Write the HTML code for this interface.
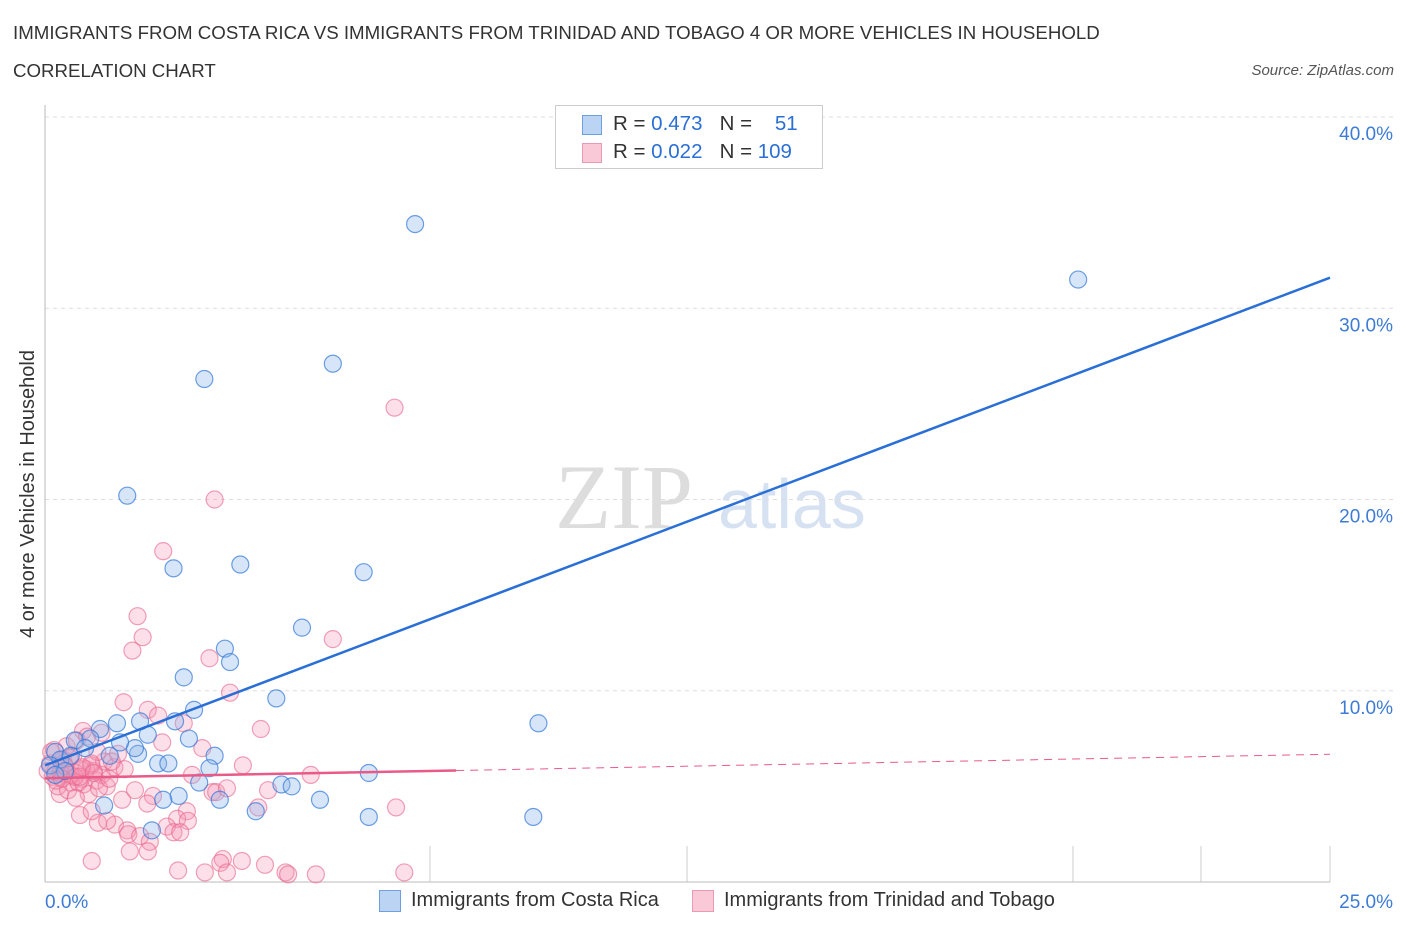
<!DOCTYPE html>
<html><head><meta charset="utf-8"><style>
body{margin:0;background:#fff;font-family:"Liberation Sans",sans-serif;}
#wrap{position:relative;width:1406px;height:930px;overflow:hidden;}
.t{position:absolute;white-space:nowrap;}
</style></head><body>
<div id="wrap">
<div class="t" style="left:13px;top:22px;font-size:18.7px;color:#333">IMMIGRANTS FROM COSTA RICA VS IMMIGRANTS FROM TRINIDAD AND TOBAGO 4 OR MORE VEHICLES IN HOUSEHOLD</div>
<div class="t" style="left:13px;top:60px;font-size:18.7px;color:#333">CORRELATION CHART</div>
<div class="t" style="right:12px;top:62px;font-size:15px;color:#555;font-style:italic">Source: ZipAtlas.com</div>
<svg id="svg" width="1406" height="930" style="position:absolute;left:0;top:0"></svg>
</div>
<script>
const xTicks=[0,25];
const yTicks=[10,20,30,40];
const blueX=[7.2,20.1,3.1,5.6,1.6,3.8,2.5,6.2,5.0,3.5,3.6,2.7,4.5,2.9,9.6,2.8,1.4,2.0,1.07,0.88,0.58,3.3,1.81,1.75,2.2,2.4,3.2,3.0,6.3,4.6,4.8,2.6,2.3,3.4,5.35,1.15,4.1,2.08,6.3,9.5,0.2,0.3,0.1,0.5,1.46,0.78,1.26,0.39,0.2,1.85,2.53];
const blueY=[34.4,31.5,26.3,27.1,20.2,16.6,16.4,16.2,13.3,12.2,11.5,10.7,9.6,9.0,8.3,7.5,8.3,7.7,8.0,7.5,7.4,6.6,6.7,7.0,6.2,6.2,5.95,5.2,5.7,5.1,5.0,4.5,4.3,4.3,4.3,4.0,3.7,2.7,3.4,3.4,6.8,6.4,6.1,6.6,7.3,7.0,6.6,5.8,5.6,8.4,8.4];
const pinkX=[6.8,3.3,2.3,1.8,1.9,1.7,5.6,3.2,3.6,1.53,2.0,2.2,2.7,4.2,0.74,2.28,3.06,3.85,5.17,2.86,3.26,3.33,4.34,3.54,4.15,6.83,1.75,2.1,1.5,1.99,0.68,1.03,1.36,1.6,1.21,0.91,0.29,2.76,2.57,2.78,2.37,1.62,1.85,2.04,2.5,2.63,3.46,3.83,1.65,2.0,0.91,3.41,4.28,4.68,2.59,3.11,3.54,4.73,5.27,6.99,
0.1,0.2,0.3,0.4,0.5,0.6,0.7,0.8,0.9,1.0,1.1,1.2,0.15,0.35,0.55,0.75,0.95,1.15,1.35,0.25,0.45,0.65,0.85,1.05,1.25,0.12,0.42,0.62,0.82,1.02,0.3,0.5,0.7,0.9,0.22,0.48,0.58,0.18,0.38,0.68,1.42,1.55,0.05,0.33,0.72,0.95,1.3,1.1,0.6];
const pinkY=[24.8,20.0,17.3,13.9,12.8,12.1,12.7,11.7,9.9,9.4,9.0,8.7,8.3,8.0,7.9,7.3,7.0,6.1,5.6,5.6,4.7,4.7,4.8,4.9,3.9,3.9,4.8,4.5,4.3,4.1,3.5,3.1,3.0,2.7,3.2,3.7,4.6,3.7,3.3,3.2,2.9,2.5,2.4,2.1,2.6,2.6,1.2,1.1,1.6,1.6,1.1,1.0,0.9,0.5,0.6,0.5,0.5,0.4,0.4,0.5,
6.2,5.8,5.5,6.0,5.2,5.7,5.4,5.9,6.1,5.3,5.6,5.0,5.5,6.4,6.6,5.1,5.8,6.3,6.0,5.0,4.8,5.2,4.6,4.9,5.4,6.8,7.1,7.4,7.6,6.8,5.7,5.6,5.9,6.2,5.3,6.5,5.5,6.9,6.1,5.5,6.7,5.9,5.8,5.4,6.0,5.7,6.3,7.8,4.4];
const blueLine=[6.1,31.6];
const pinkLine=[5.43,6.68];
const X0=45,X1=1330,Y0=882,Y40=117;
const sx=v=>X0+(X1-X0)*v/25;
const sy=v=>Y0-(Y0-Y40)*v/40;
const svg=document.getElementById('svg');
const NS='http://www.w3.org/2000/svg';
function mk(tag,attrs,parent){const e=document.createElementNS(NS,tag);for(const k in attrs)e.setAttribute(k,attrs[k]);(parent||svg).appendChild(e);return e;}
let wm=mk('text',{x:555,y:528,'font-size':92,'font-family':'Liberation Serif, serif',fill:'#ddd'});wm.textContent='ZIP';


let wm2=mk('text',{x:718,y:528,'font-size':70,'font-family':'Liberation Sans, sans-serif',fill:'#d6e2f2'});wm2.textContent='atlas';


yTicks.forEach(t=>{
 const l=mk('line',{x1:X0,x2:1395,y1:sy(t),y2:sy(t),stroke:'#ddd','stroke-dasharray':'4,4'});
 
 
 const tx=mk('text',{x:1393,y:sy(t)+23,'text-anchor':'end','font-size':19,fill:'#3d7bd6'});tx.textContent=t.toFixed(1)+'%';
 
 
});
mk('line',{x1:X0,x2:X0,y1:105,y2:Y0,stroke:'#bbb'});
mk('line',{x1:X0,x2:X1,y1:Y0,y2:Y0,stroke:'#bbb'});
[430,687,1073,1201,1330].forEach(x=>{const l=mk('line',{x1:x,x2:x,y1:846,y2:Y0,stroke:'#ccc'});
 
 });
xTicks.forEach(t=>{const tx=mk('text',{x:t==0?45:1393,y:908,'text-anchor':t==0?'start':'end','font-size':19,fill:'#3d7bd6'});tx.textContent=t.toFixed(1)+'%';
 
 });
const yt=mk('text',{transform:'translate(34,494) rotate(-90)','text-anchor':'middle','font-size':20,fill:'#333'});yt.textContent='4 or more Vehicles in Household';


pinkX.forEach((v,i)=>{const c=mk('circle',{cx:sx(v),cy:sy(pinkY[i]),r:8.5,fill:'rgba(244,150,180,0.3)',stroke:'rgba(232,100,140,0.6)','stroke-width':1.2});
 
 });
blueX.forEach((v,i)=>{const c=mk('circle',{cx:sx(v),cy:sy(blueY[i]),r:8.5,fill:'rgba(140,180,235,0.35)',stroke:'rgba(50,120,215,0.7)','stroke-width':1.2});
 
 });
const bl=mk('line',{x1:sx(0),y1:sy(blueLine[0]),x2:sx(25),y2:sy(blueLine[1]),stroke:'#2a6fd6','stroke-width':2.5});


const pm=v=>pinkLine[0]+(pinkLine[1]-pinkLine[0])*v/25;
const pl=mk('line',{x1:sx(0),y1:sy(pm(0)),x2:sx(8),y2:sy(pm(8)),stroke:'#e85a88','stroke-width':2.5});


const pd=mk('line',{x1:sx(8),y1:sy(pm(8)),x2:sx(25),y2:sy(pm(25)),stroke:'#e85a88','stroke-width':1,'stroke-dasharray':'8,6'});


</script>
<div class="t" style="left:555px;top:105px;width:266px;height:62px;border:1px solid #ccc;background:#fff">
 <div style="position:absolute;left:26px;top:9px;width:18px;height:18px;background:#bcd4f4;border:1px solid #6f9fe0"></div>
 <div style="position:absolute;left:26px;top:37px;width:18px;height:18px;background:#f9c9d8;border:1px solid #eb9ab4"></div>
 <div class="t" style="left:57px;top:6px;font-size:20.5px;color:#333">R = <span style="color:#2a6fd6">0.473</span>&nbsp;&nbsp;&nbsp;N = &nbsp;&nbsp;&nbsp;<span style="color:#2a6fd6">51</span></div>
 <div class="t" style="left:57px;top:34px;font-size:20.5px;color:#333">R = <span style="color:#2a6fd6">0.022</span>&nbsp;&nbsp;&nbsp;N = <span style="color:#2a6fd6">109</span></div>
</div>
<div class="t" style="left:379px;top:890px;width:20px;height:20px;background:#bcd4f4;border:1px solid #6f9fe0"></div>
<div class="t" style="left:411px;top:889px;font-size:20px;color:#333">Immigrants from Costa Rica</div>
<div class="t" style="left:692px;top:890px;width:20px;height:20px;background:#f9c9d8;border:1px solid #eb9ab4"></div>
<div class="t" style="left:724px;top:889px;font-size:20px;color:#333">Immigrants from Trinidad and Tobago</div>
</body></html>
